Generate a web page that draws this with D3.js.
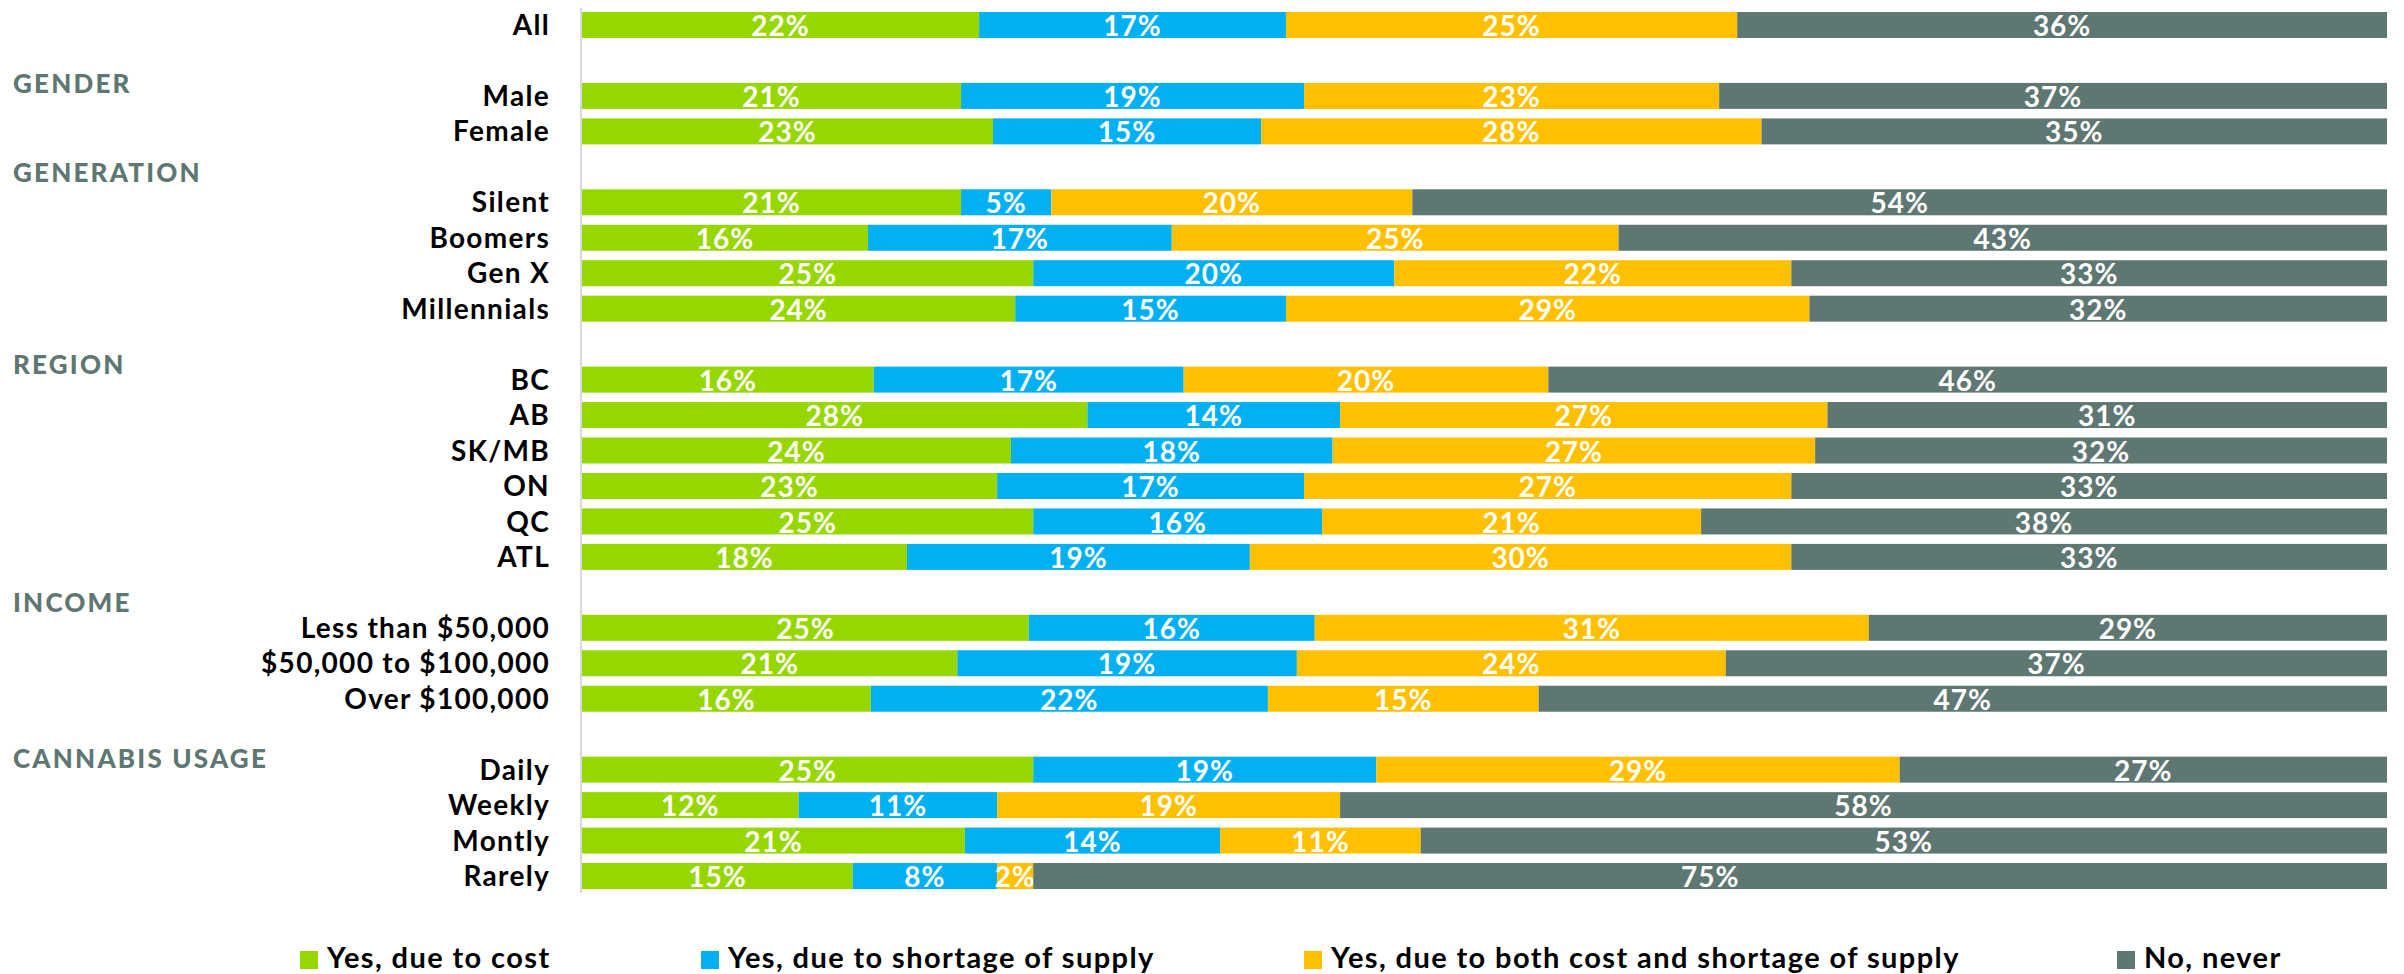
<!DOCTYPE html>
<html lang="en">
<head>
<meta charset="utf-8">
<script src="https://cdnjs.cloudflare.com/ajax/libs/d3/7.8.5/d3.min.js"></script>
<style>
    body { margin: 0; background: #fff; }
    svg text { font-family: Lato, 'Open Sans', sans-serif; font-weight: 700; }
    .pct { font-size: 28px; letter-spacing: 1px; }
    .row-label { font-size: 28px; letter-spacing: 1.3px; }
    .heading { font-size: 26px; letter-spacing: 2.2px; font-weight: 900; }
    .legend-label { font-size: 29px; letter-spacing: 1.4px; }
</style>
</head>
<body>
<svg id="chart"></svg>
<script>
    // rows of the chart, top to bottom
    const categories = ['All', 'Male', 'Female', 'Silent', 'Boomers', 'Gen X', 'Millennials',
        'BC', 'AB', 'SK/MB', 'ON', 'QC', 'ATL',
        'Less than $50,000', '$50,000 to $100,000', 'Over $100,000',
        'Daily', 'Weekly', 'Montly', 'Rarely']
    const groupIndex = [0, 1, 1, 2, 2, 2, 2, 3, 3, 3, 3, 3, 3, 4, 4, 4, 5, 5, 5, 5]
    const groupNames = ['', 'GENDER', 'GENERATION', 'REGION', 'INCOME', 'CANNABIS USAGE']

    const seriesNames = ['Yes, due to cost', 'Yes, due to shortage of supply',
        'Yes, due to both cost and shortage of supply', 'No, never']
    const costVals   = [22, 21, 23, 21, 16, 25, 24, 16, 28, 24, 23, 25, 18, 25, 21, 16, 25, 12, 21, 15]
    const supplyVals = [17, 19, 15, 5, 17, 20, 15, 17, 14, 18, 17, 16, 19, 16, 19, 22, 19, 11, 14, 8]
    const bothVals   = [25, 23, 28, 20, 25, 22, 29, 20, 27, 27, 27, 21, 30, 31, 24, 15, 29, 19, 11, 2]
    const neverVals  = [36, 37, 35, 54, 43, 33, 32, 46, 31, 32, 33, 38, 33, 29, 37, 47, 27, 58, 53, 75]

    const colors = ['#97d700', '#00b0f0', '#ffc000', '#5e7772']

    const w = 2404, h = 974
    const plotLeft = 582, plotRight = 2387
    const rowStep = 35.46, plotTop = 12

    // row order with an empty slot before every new group
    const rowIds = []
    categories.forEach((c, i) => {
        if (i > 0 && groupIndex[i] !== groupIndex[i - 1]) rowIds.push('_gap' + groupIndex[i])
        rowIds.push(c)
    })

    const table = categories.map((c, i) => ({
        cat: c, s0: costVals[i], s1: supplyVals[i], s2: bothVals[i], s3: neverVals[i]
    }))
    const keys = ['s0', 's1', 's2', 's3']
    const stacked = d3.stack().keys(keys).offset(d3.stackOffsetExpand)(table)

    const y0 = plotTop - rowStep * 0.1335
    const yScale = d3.scaleBand()
        .domain(rowIds)
        .range([y0, y0 + rowStep * rowIds.length])
        .paddingInner(0.267)
        .paddingOuter(0.1335)

    const xScale = d3.scaleLinear().domain([0, 1]).range([plotLeft, plotRight])

    const svg = d3.select('#chart').attr('width', w).attr('height', h)

    // thin vertical axis line
    svg.append('line')
        .attr('x1', plotLeft - 1).attr('x2', plotLeft - 1)
        .attr('y1', 8).attr('y2', 893)
        .attr('stroke', '#d9d9d9').attr('stroke-width', 2)

    const layers = svg.selectAll('g.layer')
        .data(stacked)
        .enter()
        .append('g')
        .attr('class', 'layer')
        .attr('fill', (d, i) => colors[i])

    layers.selectAll('rect')
        .data(d => d)
        .enter()
        .append('rect')
        .attr('x', d => xScale(d[0]))
        .attr('y', d => yScale(d.data.cat))
        .attr('width', d => xScale(d[1]) - xScale(d[0]))
        .attr('height', yScale.bandwidth())

    layers.each(function (layer) {
        d3.select(this).selectAll('text')
            .data(layer)
            .enter()
            .append('text')
            .attr('class', 'pct')
            .attr('x', d => (xScale(d[0]) + xScale(d[1])) / 2)
            .attr('y', d => yScale(d.data.cat) + yScale.bandwidth() / 2 + 1)
            .attr('dy', '0.36em')
            .attr('text-anchor', 'middle')
            .attr('fill', '#fff')
            .text(d => d.data[layer.key] + '%')
    })

    // row labels
    svg.append('g').selectAll('text')
        .data(categories)
        .enter()
        .append('text')
        .attr('class', 'row-label')
        .attr('x', 550)
        .attr('y', d => yScale(d) + yScale.bandwidth() / 2)
        .attr('dy', '0.36em')
        .attr('text-anchor', 'end')
        .attr('fill', '#000')
        .text(d => d)

    // group headings, placed against the first row of each group
    const headingShift = [0, -3, -20, -6, -16, -2]
    groupNames.forEach((g, gi) => {
        if (!g) return
        const first = categories[groupIndex.indexOf(gi)]
        svg.append('text')
            .attr('class', 'heading')
            .attr('x', 13)
            .attr('y', yScale(first) + yScale.bandwidth() / 2 + headingShift[gi])
            .attr('fill', '#5e7772')
            .text(g)
    })

    // legend
    const legendX = [300, 701, 1304, 2117]
    const legend = svg.append('g').selectAll('g')
        .data(seriesNames)
        .enter()
        .append('g')
        .attr('transform', (d, i) => 'translate(' + legendX[i] + ',951)')
    legend.append('rect')
        .attr('width', 18).attr('height', 18)
        .attr('fill', (d, i) => colors[i])
    legend.append('text')
        .attr('class', 'legend-label')
        .attr('x', 27)
        .attr('y', 17)
        .attr('fill', '#000')
        .text(d => d)
</script>
</body>
</html>
